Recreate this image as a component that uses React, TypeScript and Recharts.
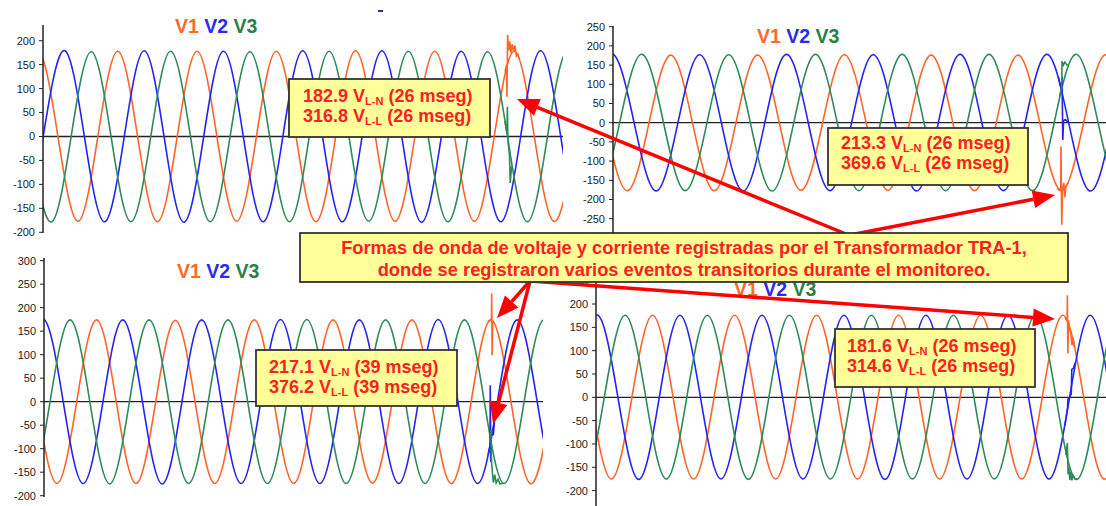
import React from 'react';
import { LineChart, Line, XAxis, YAxis, ReferenceLine } from 'recharts';

// 60 Hz waveform, one half cycle between two read extremes
const PERIOD_MS = 16.667;
const HALF = PERIOD_MS / 2;

const PHASE_NAMES = ['V1', 'V2', 'V3'];
const PHASE_COLORS = ['#ff6428', '#2424f2', '#2e8b57'];
const TITLE_COLORS = ['#ff6a2c', '#2b2bf0', '#2a8048'];

// ---- top left panel (182.9 V, 26 mseg) ----
const TL_START = [-17.59, -12.03, -14.81]; // ms of the first extreme listed per phase
const TL_V1 = [178, -177, 178, -177, 178, -178, 178, -177, 178, -178, 179, -177, 178, -177, 178, -177, 178, -177];
const TL_V2 = [179, -179, 179, -178, 179, -179, 178, -178, 179, -178, 179, -179, 178, -178, 179, -178, 179, -178];
const TL_V3 = [-178, 178, -178, 177, -178, 178, -178, 177, -178, 178, -177, 178, -178, 177, -178, 178, -178, 177];
const TL_SPIKE_V1 = [[97.2, 136], [97.55, 150], [97.6, 83], [97.75, 212], [98.0, 180], [98.2, 198], [98.45, 175], [98.7, 193], [99.0, 178], [99.3, 190], [99.6, 168], [99.9, 172], [100.2, 162]];
const TL_SPIKE_V2: number[][] = [];
const TL_SPIKE_V3 = [[97.2, 32], [97.6, 6], [97.7, 62], [97.8, -7], [98.15, -40], [98.2, -63], [98.3, -97], [98.6, -61]];
const TL_TICKS = [-200, -150, -100, -50, 0, 50, 100, 150, 200];

// ---- top right panel (213.3 V, 26 mseg) ----
const TR_START = [-22.22, -16.67, -19.44];
const TR_V1 = [176, -176, 176, -177, 176, -177, 176, -176, 177, -176, 176, -177, 176, -177, 176, -176, 176];
const TR_V2 = [178, -177, 178, -178, 177, -178, 178, -177, 177, -178, 178, -177, 178, -178, 177, -178, 178];
const TR_V3 = [-177, 178, -177, 178, -177, 177, -178, 178, -177, 178, -177, 178, -177, 178, -177, 178, -177];
const TR_SPIKE_V1 = [[85.3, -172], [86.0, -177], [86.05, -62], [86.2, -266], [86.35, -172], [86.6, -157], [86.8, -194], [87.0, -165], [87.4, -156]];
const TR_SPIKE_V2 = [[85.5, 121], [86.15, 86], [86.25, 120], [86.4, -45], [86.55, 5], [86.9, 8], [87.5, 0]];
const TR_SPIKE_V3 = [[85.8, 70], [86.2, 94], [86.25, 160], [86.5, 150], [86.8, 158], [87.2, 150], [87.4, 151]];
const TR_TICKS = [-300, -250, -200, -150, -100, -50, 0, 50, 100, 150, 200, 250];

// ---- bottom left panel (217.1 V, 39 mseg) ----
const BL_START = [-22.22, -16.67, -19.44];
const BL_V1 = [174, -174, 174, -174, 174, -174, 173, -174, 174, -174, 174, -173, 174, -174, 174, -174, 174, -174];
const BL_V2 = [175, -174, 175, -174, 174, -175, 174, -174, 175, -174, 174, -174, 175, -174, 174, -174, 175, -174];
const BL_V3 = [-174, 174, -174, 174, -175, 174, -174, 174, -174, 175, -174, 174, -174, 174, -174, 174, -174, 174];
const BL_SPIKE_V1 = [[93.8, 171], [94.6, 174], [94.65, 230], [94.75, 99], [94.85, 170], [95.2, 167]];
const BL_SPIKE_V2 = [[93.9, -113], [94.3, -95], [94.35, 35], [94.45, -128], [94.6, -70], [95.0, -70], [95.3, -36]];
const BL_SPIKE_V3 = [[94.2, -76], [94.5, -60], [94.6, -124], [94.8, -150], [95.0, -172], [95.3, -155], [95.6, -173], [96.0, -165], [96.4, -175], [97.0, -174]];
const BL_TICKS = [-200, -150, -100, -50, 0, 50, 100, 150, 200, 250, 300];

// ---- bottom right panel (181.6 V, 26 mseg) ----
const BR_START = [-21.83, -16.27, -19.03];
const BR_V1 = [176, -175, 176, -175, 176, -175, 176, -175, 176, -175, 176, -175, 176, -175, 176, -175, 176, -175];
const BR_V2 = [176, -175, 176, -176, 176, -175, 176, -175, 176, -176, 176, -175, 176, -175, 176, -175, 176, -175];
const BR_V3 = [-175, 176, -175, 176, -175, 176, -176, 176, -175, 176, -175, 176, -175, 176, -176, 176, -175, 176];
const BR_SPIKE_V1 = [[95.3, 171], [95.75, 164], [95.8, 219], [95.9, 94], [96.05, 165], [96.2, 150], [96.5, 138], [96.75, 112], [96.95, 128], [97.3, 106]];
const BR_SPIKE_V2 = [[95.3, -60], [95.85, -22], [95.9, -5], [96.3, 0], [96.6, 8], [96.7, 60], [97.0, 62], [97.4, 74]];
const BR_SPIKE_V3 = [[95.5, -124], [95.8, -98], [95.95, -165], [96.1, -150], [96.3, -177], [96.5, -160], [96.7, -178], [97.0, -168], [97.4, -176], [97.8, -175]];
const BR_TICKS = [-200, -150, -100, -50, 0, 50, 100, 150, 200, 250];

const FONT = '"Liberation Sans", Arial, sans-serif';
const TEXT_RED = '#ff2020';
const BOX_FILL = '#ffff99';

const toWave = (start: number, extremes: number[]) =>
  extremes.map((v, i) => ({ t: start + i * HALF, v }));
const toPoints = (rows: number[][]) => rows.map(([t, v]) => ({ t, v }));

type PanelProps = {
  left: number;
  top: number;
  width: number;
  height: number;
  marginTop: number;
  marginBottom: number;
  axisWidth: number;
  xMax: number;
  yDomain: [number, number];
  ticks: number[];
  starts: number[];
  waves: number[][];
  spikes: number[][][];
};

function Panel(p: PanelProps) {
  return (
    <div style={{ position: 'absolute', left: p.left, top: p.top }}>
      <LineChart
        width={p.width}
        height={p.height}
        margin={{ top: p.marginTop, right: 0, bottom: p.marginBottom, left: 0 }}
      >
        <XAxis type="number" dataKey="t" domain={[0, p.xMax]} hide allowDataOverflow />
        <YAxis
          type="number"
          domain={p.yDomain}
          ticks={p.ticks}
          interval={0}
          allowDataOverflow
          width={p.axisWidth}
          tickSize={4}
          tickMargin={4}
          tick={{ fill: '#222', fontSize: 11, fontFamily: FONT }}
          axisLine={{ stroke: '#222', strokeWidth: 1.5 }}
          tickLine={{ stroke: '#222' }}
        />
        <ReferenceLine y={0} stroke="#222" strokeWidth={1.3} />
        {p.waves.map((w, i) => (
          <Line
            key={PHASE_NAMES[i]}
            data={toWave(p.starts[i], w)}
            dataKey="v"
            type="natural"
            stroke={PHASE_COLORS[i]}
            strokeWidth={1.6}
            dot={false}
            isAnimationActive={false}
          />
        ))}
        {p.spikes.map((s, i) =>
          s.length ? (
            <Line
              key={PHASE_NAMES[i] + '-spike'}
              data={toPoints(s)}
              dataKey="v"
              type="linear"
              stroke={PHASE_COLORS[i]}
              strokeWidth={1.6}
              dot={false}
              isAnimationActive={false}
            />
          ) : null
        )}
      </LineChart>
    </div>
  );
}

function Title({ x, y }: { x: number; y: number }) {
  return (
    <text x={x} y={y} fontFamily={FONT} fontWeight="bold" fontSize={19.5}>
      {PHASE_NAMES.map((n, i) => (
        <tspan key={n} fill={TITLE_COLORS[i]}>
          {i < 2 ? n + ' ' : n}
        </tspan>
      ))}
    </text>
  );
}

type NoteProps = { x: number; y: number; w: number; h: number; tx: number; ty: number; vln: string; vll: string; ms: string };

function Note({ x, y, w, h, tx, ty, vln, vll, ms }: NoteProps) {
  const line = (val: string, sub: string, yy: number) => (
    <text x={tx} y={yy} fontFamily={FONT} fontWeight="bold" fontSize={18} fill={TEXT_RED}>
      {val} V
      <tspan fontSize={11} dy={3}>{sub}</tspan>
      <tspan dy={-3}>{' (' + ms + ' mseg)'}</tspan>
    </text>
  );
  return (
    <g>
      <rect x={x} y={y} width={w} height={h} fill={BOX_FILL} stroke="#333" strokeWidth={1.8} />
      {line(vln, 'L-N', ty)}
      {line(vll, 'L-L', ty + 20)}
    </g>
  );
}

function Arrow({ x1, y1, x2, y2 }: { x1: number; y1: number; x2: number; y2: number }) {
  const a = Math.atan2(y2 - y1, x2 - x1);
  const len = 22;
  const half = 9;
  const bx = x2 - len * Math.cos(a);
  const by = y2 - len * Math.sin(a);
  const px = -Math.sin(a) * half;
  const py = Math.cos(a) * half;
  return (
    <g>
      <line x1={x1} y1={y1} x2={bx} y2={by} stroke="#ff0000" strokeWidth={3.5} />
      <polygon points={`${x2},${y2} ${bx + px},${by + py} ${bx - px},${by - py}`} fill="#ff0000" />
    </g>
  );
}

export default function App() {
  return (
    <div
      style={{
        position: 'fixed',
        left: 0,
        top: 0,
        width: 1106,
        height: 506,
        overflow: 'hidden',
        background: '#fff',
      }}
    >
      <Panel
        left={0} top={0} width={563} height={241} marginTop={25} marginBottom={8} axisWidth={43}
        xMax={109.4} yDomain={[-201.5, 232.8]} ticks={TL_TICKS}
        starts={TL_START} waves={[TL_V1, TL_V2, TL_V3]} spikes={[TL_SPIKE_V1, TL_SPIKE_V2, TL_SPIKE_V3]}
      />
      <Panel
        left={565} top={0} width={541} height={246} marginTop={26} marginBottom={8} axisWidth={48}
        xMax={94.7} yDomain={[-300.3, 251.8]} ticks={TR_TICKS}
        starts={TR_START} waves={[TR_V1, TR_V2, TR_V3]} spikes={[TR_SPIKE_V1, TR_SPIKE_V2, TR_SPIKE_V3]}
      />
      <Panel
        left={0} top={250} width={543} height={255} marginTop={8} marginBottom={8} axisWidth={44}
        xMax={105.5} yDomain={[-202.8, 305.7]} ticks={BL_TICKS}
        starts={BL_START} waves={[BL_V1, BL_V2, BL_V3]} spikes={[BL_SPIKE_V1, BL_SPIKE_V2, BL_SPIKE_V3]}
      />
      <Panel
        left={550} top={282} width={570} height={224} marginTop={0} marginBottom={0} axisWidth={46}
        xMax={106.5} yDomain={[-233, 247.2]} ticks={BR_TICKS}
        starts={BR_START} waves={[BR_V1, BR_V2, BR_V3]} spikes={[BR_SPIKE_V1, BR_SPIKE_V2, BR_SPIKE_V3]}
      />
      <svg
        width={1106}
        height={506}
        style={{ position: 'absolute', left: 0, top: 0, pointerEvents: 'none' }}
      >
        <rect x={378} y={10} width={5} height={2} fill="#2a3a80" />
        <Title x={175} y={33} />
        <Title x={757} y={43} />
        <Title x={177} y={278} />
        <Title x={734} y={296} />

        <Note x={289} y={79} w={201} h={58} tx={303} ty={102} vln="182.9" vll="316.8" ms="26" />
        <Note x={828} y={128} w={200} h={57} tx={841} ty={149} vln="213.3" vll="369.6" ms="26" />
        <Note x={256} y={350} w={201} h={56} tx={269} ty={373} vln="217.1" vll="376.2" ms="39" />
        <Note x={835} y={329} w={200} h={58} tx={847} ty={352} vln="181.6" vll="314.6" ms="26" />

        <Arrow x1={846} y1={234} x2={517} y2={99} />
        <Arrow x1={855} y1={234} x2={1055} y2={195} />
        <Arrow x1={530} y1={281} x2={497} y2={318} />
        <Arrow x1={530} y1={281} x2={493} y2={424} />
        <Arrow x1={530} y1={281} x2={1055} y2={319} />

        <rect x={300} y={233} width={768} height={49} fill={BOX_FILL} stroke="#333" strokeWidth={1.8} />
        <text x={684} y={254} textAnchor="middle" fontFamily={FONT} fontWeight="bold" fontSize={18.3} fill={TEXT_RED}>
          Formas de onda de voltaje y corriente registradas por el Transformador TRA-1,
        </text>
        <text x={684} y={276} textAnchor="middle" fontFamily={FONT} fontWeight="bold" fontSize={18.3} fill={TEXT_RED}>
          donde se registraron varios eventos transitorios durante el monitoreo.
        </text>
      </svg>
    </div>
  );
}
